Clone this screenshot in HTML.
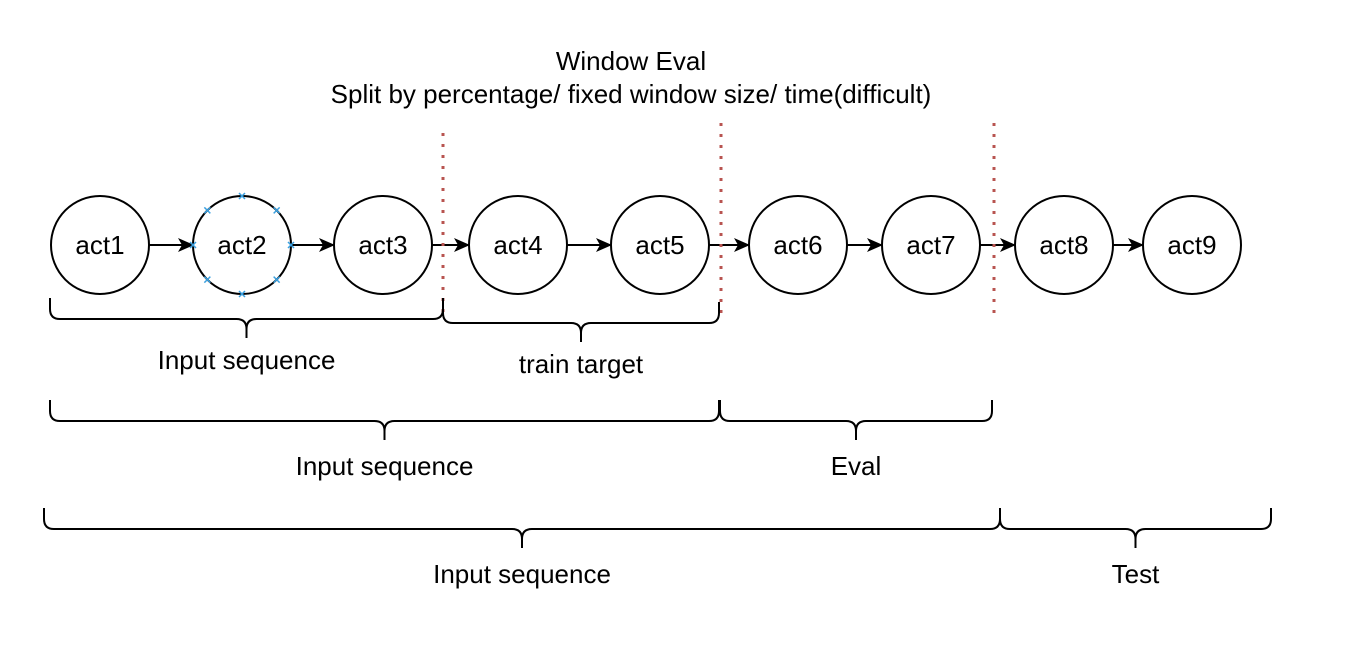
<!DOCTYPE html>
<html><head><meta charset="utf-8"><style>
body{margin:0;background:#fff}
svg text{font-family:"Liberation Sans",Arial,sans-serif;fill:#000}
</style></head><body>
<svg width="1354" height="642" viewBox="0 0 1354 642">
<defs><marker id="ah" markerWidth="16" markerHeight="14" refX="15" refY="7" orient="auto" markerUnits="userSpaceOnUse"><path d="M0,0 L16,7 L0,14 L4,7 z" fill="#000"/></marker></defs>
<text x="631" y="70" font-size="26" text-anchor="middle">Window Eval</text>
<text x="631" y="103" font-size="26" text-anchor="middle">Split by percentage/ fixed window size/ time(difficult)</text>
<g id="g"></g>
</svg>
<script>
const names=['act1','act2','act3','act4','act5','act6','act7','act8','act9'];
const cx=[100,242,383,518,660,798,931,1064,1192];
const splits=[[443,133,320],[721,123,316],[994,123,318]];
const braces=[[50,443,298,'Input sequence',360],[443,719,302,'train target',364],[50,719,400,'Input sequence',466],[720,992,400,'Eval',466],[44,1000,508,'Input sequence',574],[1000,1271,508,'Test',574]];
const g=document.getElementById('g');const NS='http://www.w3.org/2000/svg';
function mk(t,a){const e=document.createElementNS(NS,t);for(const k in a)e.setAttribute(k,a[k]);g.appendChild(e);return e;}
const R=49,cy=245;
for(let i=0;i<cx.length-1;i++){const l=mk('line',{x1:cx[i]+R,y1:cy,x2:cx[i+1]-R,y2:cy,stroke:'#000','stroke-width':2,'marker-end':'url(#ah)'});

}
cx.forEach((x,i)=>{const c=mk('circle',{cx:x,cy:cy,r:R,fill:'#fff',stroke:'#000','stroke-width':2});


const t=mk('text',{x:x,y:cy+9,'font-size':26,'text-anchor':'middle'});t.textContent=names[i];

});
for(let k=0;k<8;k++){const a=k*Math.PI/4,x=242+R*Math.cos(a),y=cy+R*Math.sin(a);
const m=mk('path',{d:`M${x-3},${y-3}L${x+3},${y+3}M${x+3},${y-3}L${x-3},${y+3}`,stroke:'#3aa0e0','stroke-width':1.5});

}
splits.forEach((s,i)=>{const l=mk('line',{x1:s[0],y1:s[1],x2:s[0],y2:s[2],stroke:'#b85450','stroke-width':3,'stroke-dasharray':'3 8'});

});
braces.forEach((b,i)=>{const[x1,x2,y,lab,ly]=b;const m=(x1+x2)/2,r=10,yb=y+21,yt=y+40;
const d=`M${x1},${y} L${x1},${yb-r} Q${x1},${yb} ${x1+r},${yb} L${m-r},${yb} Q${m},${yb} ${m},${yb+r} L${m},${yt} M${m},${yb+r} Q${m},${yb} ${m+r},${yb} L${x2-r},${yb} Q${x2},${yb} ${x2},${yb-r} L${x2},${y}`;
const p=mk('path',{d:d,fill:'none',stroke:'#000','stroke-width':2});


const t=mk('text',{x:m,y:ly+9,'font-size':26,'text-anchor':'middle'});t.textContent=lab;

});
</script>
</body></html>
